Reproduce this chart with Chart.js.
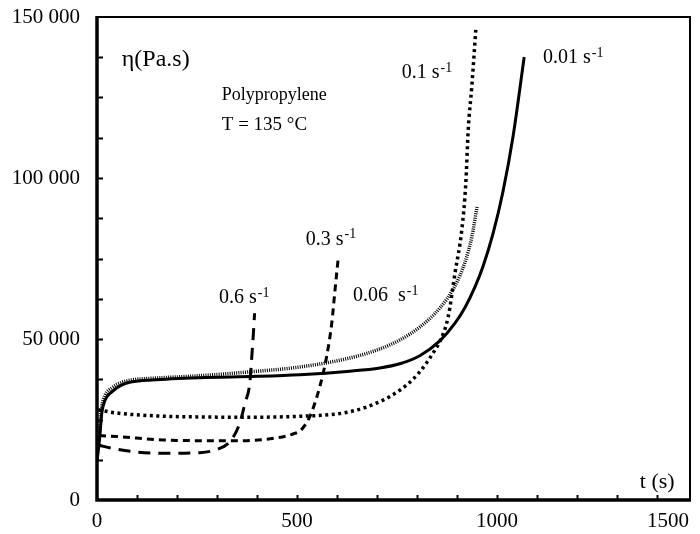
<!DOCTYPE html>
<html><head><meta charset="utf-8">
<script src="https://cdn.jsdelivr.net/npm/chart.js@4/dist/chart.umd.min.js"></script>
<style>html,body{margin:0;padding:0;background:#fff}#wrap{width:700px;height:534px;position:relative}</style>
</head><body><div id="wrap"><canvas id="c"></canvas></div>
<script>
// Shear rates (s^-1)
const rateLabels = ['0.01', '0.06', '0.1', '0.3', '0.6'];

// time (s) and viscosity (Pa.s) for each shear rate
const t001   = [0, 7, 12, 20, 37, 61, 87, 137, 257, 400, 507, 632, 707, 757, 807, 857, 895, 920, 945, 965, 990, 1015, 1040, 1068];
const eta001 = [12000, 19700, 27000, 31000, 33600, 35700, 36700, 37300, 38000, 38400, 38900, 40000, 41000, 42300, 44800, 49400, 54900, 59800, 66200, 72500, 82700, 95800, 112800, 137600];

const t006   = [0, 6, 12, 20, 37, 61, 87, 137, 257, 382, 507, 632, 707, 757, 807, 857, 895, 920, 937, 950];
const eta006 = [13000, 22000, 29000, 32500, 34800, 36500, 37300, 37800, 38600, 39800, 41300, 44100, 46900, 49700, 53700, 59600, 66500, 73900, 81700, 91000];

const t01   = [3, 50, 170, 257, 350, 507, 632, 715, 757, 790, 820, 845, 857, 878, 895, 912, 922, 928, 937, 947];
const eta01 = [28000, 27000, 26000, 25800, 25700, 26000, 27400, 31000, 34100, 37500, 41900, 46600, 49200, 56900, 70500, 83900, 98400, 114900, 128400, 146000];

const t03   = [5, 50, 174, 341, 450, 490, 512, 532, 557, 574, 587, 595, 603];
const eta03 = [20000, 19700, 18600, 18400, 19300, 20500, 22000, 25900, 35200, 44500, 55000, 65200, 75000];

const t06   = [5, 40, 91, 174, 257, 299, 332, 357, 370, 382, 387, 391, 394];
const eta06 = [17000, 16000, 15000, 14500, 14700, 15700, 18100, 23900, 30100, 36300, 44500, 51800, 58000];

// axis ticks
const xMajorTicks = [0, 500, 1000];
const xLastTickLabel = '1500';
const yMajorTicks = [0, 50000, 100000, 150000];

const pts = (ts, es) => ts.map((t, i) => ({x: t, y: es[i]}));
const fmt = v => String(v).replace(/\B(?=(\d{3})+(?!\d))/g, ' ');
const FONT = '"Liberation Serif", "Times New Roman", serif';

const annotations = [
  {text: 'η(Pa.s)', t: 62, eta: 136700, size: 24},
  {text: 'Polypropylene', t: 312, eta: 125800, size: 18},
  {text: 'T = 135 °C', t: 312, eta: 116500, size: 19},
  {text: '0.1 s', sup: '-1', t: 762, eta: 132600, size: 20},
  {text: '0.01 s', sup: '-1', t: 1115, eta: 137300, size: 20},
  {text: '0.3 s', sup: '-1', t: 522, eta: 80800, size: 20},
  {text: '0.6 s', sup: '-1', t: 305, eta: 62700, size: 20},
  {text: '0.06  s', sup: '-1', t: 640, eta: 63400, size: 20},
  {text: 't (s)', t: 1357, eta: 5600, size: 22}
];

const framePlugin = {
  id: 'frame',
  afterDraw(chart) {
    const {ctx, chartArea: a, scales: {x, y}} = chart;
    ctx.save();
    ctx.strokeStyle = '#000';
    ctx.lineWidth = 2;
    for (let v = 12500; v < 150000; v += 12500) {
      const py = Math.round(y.getPixelForValue(v)) + 0.5;
      ctx.beginPath(); ctx.moveTo(a.left, py); ctx.lineTo(a.left + 6, py); ctx.stroke();
    }
    for (let v = 100; v < x.max; v += 100) {
      const px = Math.round(x.getPixelForValue(v)) + 0.5;
      ctx.beginPath(); ctx.moveTo(px, a.bottom); ctx.lineTo(px, a.bottom - 5); ctx.stroke();
    }
    ctx.lineWidth = 2;
    ctx.beginPath(); ctx.moveTo(a.left, a.top); ctx.lineTo(a.right, a.top); ctx.lineTo(a.right, a.bottom); ctx.stroke();
    ctx.lineWidth = 3.5;
    ctx.beginPath(); ctx.moveTo(a.left, a.top - 1); ctx.lineTo(a.left, a.bottom); ctx.lineTo(a.right + 1, a.bottom); ctx.stroke();
    ctx.fillStyle = '#000';
    ctx.font = '21px ' + FONT;
    ctx.textAlign = 'right';
    ctx.textBaseline = 'middle';
    ctx.fillText(xLastTickLabel, a.right - 1, a.bottom + 21);
    ctx.textAlign = 'left';
    for (const an of annotations) {
      const px = x.getPixelForValue(an.t), py = y.getPixelForValue(an.eta);
      ctx.font = an.size + 'px ' + FONT;
      ctx.fillText(an.text, px, py);
      if (an.sup) {
        const w = ctx.measureText(an.text).width;
        ctx.font = '14px ' + FONT;
        ctx.fillText(an.sup, px + w + 1, py - 5);
      }
    }
    ctx.restore();
  }
};

const mk = (label, ts, es, width, dash, cap) => ({
  label, data: pts(ts, es), borderColor: '#000', backgroundColor: '#000',
  borderWidth: width, borderDash: dash, borderCapStyle: cap || 'butt',
  pointRadius: 0, cubicInterpolationMode: 'monotone', fill: false
});

new Chart(document.getElementById('c'), {
  type: 'line',
  data: {
    datasets: [
      mk(rateLabels[0], t001, eta001, 3, []),
      mk(rateLabels[1], t006, eta006, 3.5, [1, 1.2]),
      mk(rateLabels[2], t01, eta01, 3.5, [3, 3.5]),
      mk(rateLabels[3], t03, eta03, 3, [7, 5]),
      mk(rateLabels[4], t06, eta06, 3, [12, 8])
    ]
  },
  options: {
    responsive: true, maintainAspectRatio: false, animation: false,
    layout: {padding: {top: 17, right: 10, left: 0, bottom: 0}},
    plugins: {legend: {display: false}, tooltip: {enabled: false}},
    scales: {
      x: {
        type: 'linear', min: 0, max: 1482.5,
        afterBuildTicks: s => { s.ticks = xMajorTicks.map(v => ({value: v})); },
        afterFit: s => { s.height = 34; s.paddingLeft = 0; s.paddingRight = 0; },
        grid: {display: false, drawTicks: false}, border: {display: false},
        ticks: {color: '#000', font: {family: FONT, size: 21}, padding: 9, maxRotation: 0, autoSkip: false,
                callback: v => String(v)}
      },
      y: {
        type: 'linear', min: 0, max: 150000,
        afterBuildTicks: s => { s.ticks = yMajorTicks.map(v => ({value: v})); },
        afterFit: s => { s.width = 97; s.paddingTop = 0; s.paddingBottom = 0; },
        grid: {display: false, drawTicks: false}, border: {display: false},
        ticks: {color: '#000', font: {family: FONT, size: 21}, padding: 17, autoSkip: false,
                callback: v => fmt(v)}
      }
    }
  },
  plugins: [framePlugin]
});
</script></body></html>
